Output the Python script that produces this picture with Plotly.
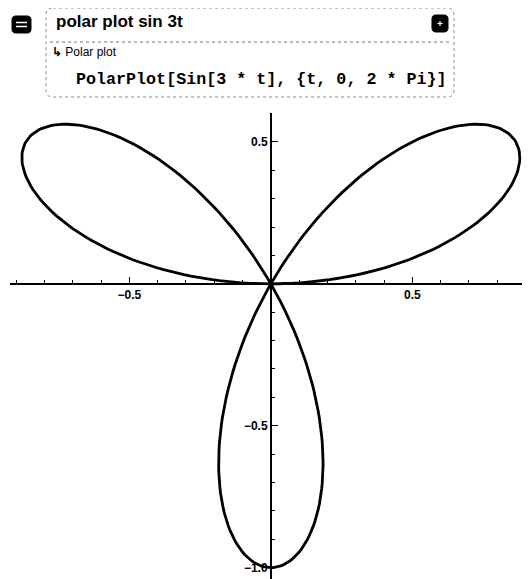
import numpy as np
import plotly.graph_objects as go

# PolarPlot[Sin[3*t], {t, 0, 2*Pi}] -- the curve named in the notebook cell
t_vals = np.linspace(0, 2 * np.pi, 721)
r_vals = np.sin(3 * t_vals)

x_ticks = [-0.5, 0.5]
x_tick_labels = ["−0.5", "0.5"]
y_ticks = [0.5, -0.5, -1.0]
y_tick_labels = ["0.5", "−0.5", "−1.0"]

cell_title = "polar plot sin 3t"
cell_sub = "Polar plot"
cell_code = "PolarPlot[Sin[3 * t], {t, 0, 2 * Pi}]"

# page body has an 8px margin, so everything is laid out 8px up/left
OFF = 8
W, H = 530 - OFF, 579 - OFF
ML, MR, MT, MB = 10 - OFF, 0, 113 - OFF, 0
x_range = [-0.922, 0.916]
y_range = [-1.04, 0.602]


def px(x):
    # reference pixel x -> paper
    return (x - OFF - ML) / (W - ML - MR)


def py(y):
    # reference pixel y -> paper
    return (H - MB - (y - OFF)) / (H - MT - MB)


def rounded(x0, y0, x1, y1, r):
    # rounded rect path in paper coords, given in pixels
    p = [
        (x0 + r, y0), (x1 - r, y0), (x1, y0), (x1, y0 + r),
        (x1, y1 - r), (x1, y1), (x1 - r, y1), (x0 + r, y1),
        (x0, y1), (x0, y1 - r), (x0, y0 + r), (x0, y0), (x0 + r, y0),
    ]
    q = [(px(a), py(b)) for a, b in p]
    s = "M %f,%f L %f,%f Q %f,%f %f,%f L %f,%f Q %f,%f %f,%f L %f,%f Q %f,%f %f,%f L %f,%f Q %f,%f %f,%f Z" % tuple(
        v for pt in q for v in pt)
    return s


xs = r_vals * np.cos(t_vals)
ys = r_vals * np.sin(t_vals)

fig = go.Figure()
fig.add_trace(go.Scatter(x=xs, y=ys, mode="lines",
                         line=dict(color="black", width=2.8),
                         hoverinfo="skip", showlegend=False))

x_pos = (0 - y_range[0]) / (y_range[1] - y_range[0])
y_pos = (0 - x_range[0]) / (x_range[1] - x_range[0])

tick_font = dict(family="Liberation Sans", size=12, color="black")

fig.update_layout(
    width=W, height=H,
    margin=dict(l=ML, r=MR, t=MT, b=MB),
    paper_bgcolor="white", plot_bgcolor="white",
    xaxis=dict(range=x_range, anchor="free", position=x_pos,
               showgrid=False, zeroline=False, showline=True,
               linecolor="black", linewidth=1.6,
               ticks="inside", ticklen=6, tickwidth=1.2, tickcolor="black",
               tickvals=x_ticks, ticktext=["<b>%s</b>" % s for s in x_tick_labels],
               tickfont=tick_font,
               minor=dict(tick0=0, dtick=0.1, ticks="inside", ticklen=3,
                          tickcolor="black", tickwidth=1)),
    yaxis=dict(range=y_range, anchor="free", position=y_pos,
               showgrid=False, zeroline=False, showline=True,
               linecolor="black", linewidth=1.6,
               ticks="inside", ticklen=6, tickwidth=1.2, tickcolor="black",
               tickvals=y_ticks, ticktext=["<b>%s</b>" % s for s in y_tick_labels],
               tickfont=tick_font,
               minor=dict(tick0=0, dtick=0.1, ticks="inside", ticklen=3,
                          tickcolor="black", tickwidth=1)),
)

shapes = []
# cell frame
shapes.append(dict(type="path", xref="paper", yref="paper",
                   path=rounded(46, 8, 454, 97, 7),
                   line=dict(color="#8a8a8a", width=1, dash="dot"),
                   fillcolor="rgba(0,0,0,0)"))
# dotted separator
shapes.append(dict(type="line", xref="paper", yref="paper",
                   x0=px(50), x1=px(450), y0=py(42), y1=py(42),
                   line=dict(color="#777777", width=1, dash="dot")))
# left collapse icon
shapes.append(dict(type="path", xref="paper", yref="paper",
                   path=rounded(12, 16, 31, 33, 4),
                   line=dict(color="black", width=1), fillcolor="black"))
for yy in (22.5, 26.5):
    shapes.append(dict(type="line", xref="paper", yref="paper",
                       x0=px(16), x1=px(27), y0=py(yy), y1=py(yy),
                       line=dict(color="white", width=1.5)))
# right icon
shapes.append(dict(type="path", xref="paper", yref="paper",
                   path=rounded(432, 15, 448, 32, 4),
                   line=dict(color="black", width=1), fillcolor="black"))
shapes.append(dict(type="line", xref="paper", yref="paper",
                   x0=px(437.5), x1=px(442.5), y0=py(23.5), y1=py(23.5),
                   line=dict(color="white", width=1.2)))
shapes.append(dict(type="line", xref="paper", yref="paper",
                   x0=px(440), x1=px(440), y0=py(21), y1=py(26),
                   line=dict(color="white", width=1.2)))
fig.update_layout(shapes=shapes)

fig.add_annotation(x=px(54), y=py(22), xref="paper", yref="paper",
                   xanchor="left", yanchor="middle", showarrow=False,
                   text="<b>%s</b>" % cell_title,
                   font=dict(family="Liberation Sans", size=17, color="black"))
fig.add_annotation(x=px(50), y=py(52), xref="paper", yref="paper",
                   xanchor="left", yanchor="middle", showarrow=False,
                   text="<b>↳</b> " + cell_sub,
                   font=dict(family="Liberation Sans Narrow, Liberation Sans", size=12, color="black"))
fig.add_annotation(x=px(74), y=py(79), xref="paper", yref="paper",
                   xanchor="left", yanchor="middle", showarrow=False,
                   text="<b>%s</b>" % cell_code,
                   font=dict(family="Liberation Mono", size=16.7, color="black"))

fig.write_html("out.html")
